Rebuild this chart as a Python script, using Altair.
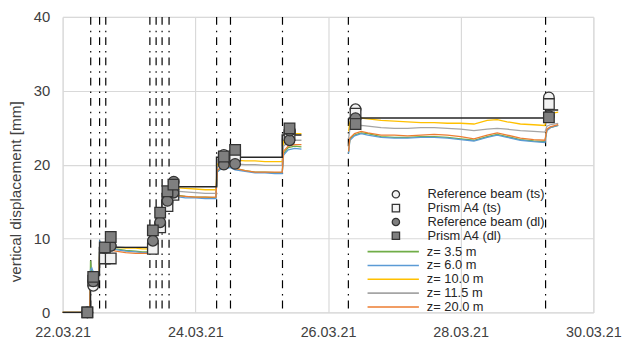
import altair as alt
import pandas as pd

BASE = pd.Timestamp("2021-03-22")

# ---------------- data (days after 22.03.21 00:00, displacement in mm) ----------------
seg1_days = [0.0, 0.41, 0.42, 0.44, 0.47, 0.50, 0.55,
             0.56, 0.60, 0.65, 0.70, 0.80, 0.95, 1.10, 1.20, 1.31,
             1.32, 1.40, 1.41, 1.50, 1.51, 1.60,
             1.62, 1.70, 1.85, 2.00, 2.15, 2.31,
             2.33, 2.40, 2.53, 2.60, 2.75, 2.90, 3.05, 3.20, 3.31,
             3.33, 3.40, 3.50, 3.60]
seg2_days = [4.31, 4.33, 4.40, 4.50, 4.60, 4.80, 5.00, 5.20, 5.40, 5.60, 5.80,
             6.00, 6.20, 6.40, 6.55, 6.70, 6.90, 7.10, 7.27, 7.30, 7.35, 7.47]

z35_seg1 = [0, 0, 7.0, 5.0, 5.5, 5.0, 5.0,
            9.5, 9.0, 9.2, 8.8, 8.6, 8.4, 8.3, 8.2, 8.2,
            9.5, 11.0, 12.0, 13.0, 14.5, 16.0,
            16.2, 15.9, 15.7, 15.6, 15.6, 15.5,
            19.0, 19.6, 19.7, 19.5, 19.2, 19.0, 19.0, 18.9, 18.9,
            21.5, 22.3, 22.5, 22.4]
z60_seg1 = [0, 0, 5.8, 6.0, 5.2, 5.5, 5.2,
            9.6, 9.0, 8.8, 8.6, 8.5, 8.3, 8.2, 8.1, 8.1,
            9.4, 10.8, 11.8, 12.8, 14.3, 15.8,
            16.0, 15.7, 15.5, 15.5, 15.4, 15.4,
            19.0, 19.5, 19.6, 19.3, 19.1, 18.9, 18.9, 18.8, 18.8,
            21.3, 22.0, 22.2, 22.1]
z100_seg1 = [0, 0, 5.0, 5.0, 4.9, 5.0, 5.0,
             9.3, 9.0, 8.9, 8.8, 8.8, 8.7, 8.7, 8.6, 8.6,
             9.8, 11.3, 12.3, 13.4, 14.8, 16.6,
             17.0, 16.9, 16.8, 16.7, 16.6, 16.6,
             20.0, 20.6, 20.7, 20.6, 20.5, 20.5, 20.4, 20.4, 20.4,
             23.2, 23.9, 24.2, 24.2]
z115_seg1 = [0, 0, 5.0, 5.1, 5.0, 5.0, 5.0,
             9.4, 9.1, 9.0, 8.9, 8.9, 8.8, 8.8, 8.8, 8.8,
             9.8, 11.2, 12.2, 13.3, 14.6, 16.3,
             16.6, 16.4, 16.3, 16.2, 16.1, 16.1,
             19.6, 20.2, 20.3, 20.1, 20.0, 20.0, 19.9, 19.9, 19.9,
             22.5, 23.1, 23.3, 23.3]
z200_seg1 = [0, 0, 5.2, 5.0, 5.0, 5.0, 5.0,
             9.2, 8.8, 8.6, 8.5, 8.3, 8.1, 8.0, 8.0, 8.0,
             9.3, 10.9, 11.9, 12.9, 14.4, 15.9,
             16.1, 15.8, 15.7, 15.6, 15.6, 15.6,
             19.2, 19.8, 19.8, 19.5, 19.2, 19.0, 19.0, 19.0, 19.0,
             21.8, 22.5, 22.7, 22.7]

z35_seg2 = [21.7, 23.5, 24.0, 24.3, 24.2, 23.8, 23.7, 23.7, 23.8, 23.8, 23.7,
            23.5, 23.3, 23.8, 24.1, 23.8, 23.4, 23.2, 23.1, 24.7, 25.0, 25.3]
z60_seg2 = [21.5, 23.3, 23.9, 24.2, 24.0, 23.7, 23.6, 23.6, 23.7, 23.7, 23.6,
            23.4, 23.2, 23.7, 24.0, 23.7, 23.3, 23.1, 23.0, 24.6, 25.0, 25.3]
z100_seg2 = [24.5, 25.8, 26.2, 26.3, 26.2, 26.0, 25.9, 25.8, 25.7, 25.7, 25.6,
             25.6, 25.5, 26.0, 26.1, 25.8, 25.5, 25.4, 25.3, 26.6, 26.9, 27.1]
z115_seg2 = [23.5, 24.8, 25.1, 25.3, 25.2, 25.0, 24.9, 24.9, 25.0, 25.0, 24.9,
             24.8, 24.6, 24.8, 24.9, 24.8, 24.6, 24.5, 24.4, 25.2, 25.4, 25.6]
z200_seg2 = [21.8, 23.6, 24.2, 24.5, 24.3, 24.0, 24.0, 23.9, 24.0, 24.1, 24.0,
             23.8, 23.5, 24.0, 24.3, 24.0, 23.6, 23.4, 23.3, 24.8, 25.1, 25.4]

sensor_names = ["z= 3.5 m", "z= 6.0 m", "z= 10.0 m", "z= 11.5 m", "z= 20.0 m"]
sensor_colors = ["#70ad47", "#5b9bd5", "#ffc000", "#a5a5a5", "#ed7d31"]

# black step curve
step1_days = [0.0, 0.42, 0.555, 1.315, 1.41, 1.50, 1.60, 2.32, 3.31, 3.60]
step1_vals = [0.0, 5.0, 8.8, 11.2, 13.4, 16.0, 17.0, 21.0, 24.0, 24.0]
step2_days = [4.31, 7.28, 7.47]
step2_vals = [26.3, 27.4, 27.4]

# load-step times (dash-dot verticals)
load_days = [0.423, 0.557, 0.650, 1.315, 1.409, 1.499, 1.604, 2.321, 2.530, 3.314, 4.307, 7.28]

# point measurements
ref_ts_days = [0.372, 0.461, 0.635, 0.725, 1.36, 1.47, 1.58, 1.67, 2.43, 2.60, 3.42, 4.415, 7.33]
ref_ts_vals = [0.0, 3.6, 8.5, 9.0, 9.5, 12.0, 14.9, 16.0, 21.3, 21.4, 24.3, 27.5, 29.1]
prism_ts_days = [0.372, 0.461, 0.635, 0.725, 1.36, 1.47, 1.58, 1.67, 2.43, 2.60, 3.42, 4.415, 7.33]
prism_ts_vals = [0.0, 4.3, 7.3, 7.3, 8.6, 11.5, 14.4, 15.9, 20.8, 21.2, 24.0, 26.9, 28.2]
ref_dl_days = [0.372, 0.461, 0.635, 0.725, 1.36, 1.47, 1.58, 1.67, 1.675, 2.43, 2.60, 3.42, 3.425, 4.415, 7.33]
ref_dl_vals = [0.0, 4.2, 8.7, 9.0, 9.7, 12.2, 15.1, 16.2, 17.7, 20.0, 20.1, 23.3, 24.6, 26.3, 26.6]
prism_dl_days = [0.372, 0.461, 0.635, 0.725, 1.36, 1.47, 1.58, 1.67, 2.43, 2.60, 3.42, 4.415, 7.33]
prism_dl_vals = [0.0, 4.8, 8.8, 10.2, 11.1, 13.5, 16.4, 17.3, 21.1, 22.0, 24.9, 25.5, 26.4]

marker_names = ["Reference beam (ts)", "Prism A4 (ts)", "Reference beam (dl)", "Prism A4 (dl)"]
marker_shapes = ["circle", "square", "circle", "square"]
marker_fills = ["#f2f2f2", "#f2f2f2", "#7f7f7f", "#7f7f7f"]
marker_strokes = ["#333333", "#333333", "#333333", "#333333"]

x_ticks = ["2021-03-22", "2021-03-24", "2021-03-26", "2021-03-28", "2021-03-30"]
y_ticks = [0, 10, 20, 30, 40]


def stamp(days):
    return [(BASE + pd.to_timedelta(d, unit="D")).strftime("%Y-%m-%dT%H:%M:%S") for d in days]


# ---------------- tables ----------------
rows = []
seg1 = [z35_seg1, z60_seg1, z100_seg1, z115_seg1, z200_seg1]
seg2 = [z35_seg2, z60_seg2, z100_seg2, z115_seg2, z200_seg2]
for name, a, b in zip(sensor_names, seg1, seg2):
    for t, v in zip(stamp(seg1_days), a):
        rows.append({"t": t, "v": v, "sensor": name, "seg": name + "1"})
    for t, v in zip(stamp(seg2_days), b):
        rows.append({"t": t, "v": v, "sensor": name, "seg": name + "2"})
lines_df = pd.DataFrame(rows)

step_df = pd.DataFrame(
    [{"t": t, "v": v, "seg": "a"} for t, v in zip(stamp(step1_days), step1_vals)]
    + [{"t": t, "v": v, "seg": "b"} for t, v in zip(stamp(step2_days), step2_vals)]
)

rules_df = pd.DataFrame({"t": stamp(load_days)})

mrows = []
for name, d, v in zip(marker_names,
                      [ref_ts_days, prism_ts_days, ref_dl_days, prism_dl_days],
                      [ref_ts_vals, prism_ts_vals, ref_dl_vals, prism_dl_vals]):
    for t, val in zip(stamp(d), v):
        mrows.append({"t": t, "v": val, "marker": name})
markers_df = pd.DataFrame(mrows)

# ---------------- encodings ----------------
FONT = "Liberation Sans"
x_enc = alt.X(
    "t:T",
    scale=alt.Scale(domain=[alt.DateTime(year=2021, month=3, date=22),
                            alt.DateTime(year=2021, month=3, date=30)]),
    axis=alt.Axis(
        values=[alt.DateTime(year=int(s[:4]), month=int(s[5:7]), date=int(s[8:10])) for s in x_ticks],
        format="%d.%m.%y", title=None, grid=True, gridColor="#d9d9d9", gridWidth=1.2,
        domain=False, ticks=False, labelFontSize=14.5, labelPadding=13, labelColor="#404040",
        labelFlush=False, labelOverlap=False, labelFont=FONT,
    ),
)
y_enc = alt.Y(
    "v:Q",
    scale=alt.Scale(domain=[0, 40]),
    axis=alt.Axis(
        values=y_ticks, title="vertical displacement [mm]", grid=True, gridColor="#d9d9d9",
        gridWidth=1.2, domain=False, ticks=False, labelFontSize=15, labelPadding=13,
        labelColor="#404040", labelFont=FONT, titleFont=FONT, titleFontSize=15.5,
        titleFontWeight="normal", titleColor="#404040", titleX=-47.5, titleY=176.5,
        titleAngle=-90, titleAlign="center", titleBaseline="middle",
    ),
)

rules = alt.Chart(rules_df).mark_rule(
    color="#000000", strokeWidth=1.2, strokeDash=[8, 6, 1.5, 5]
).encode(x=x_enc)

lines = alt.Chart(lines_df).mark_line(strokeWidth=1.3).encode(
    x=x_enc, y=y_enc,
    color=alt.Color(
        "sensor:N",
        scale=alt.Scale(domain=sensor_names, range=sensor_colors),
        legend=alt.Legend(
            title=None, orient="none", legendX=328, legendY=231, padding=0,
            symbolType="M-5,0H5", symbolSize=108, symbolStrokeWidth=1.6,
            labelOffset=27.5, rowPadding=-0.8, labelFontSize=13, labelFont=FONT,
            labelColor="#262626",
        ),
    ),
    detail="seg:N",
)

step = alt.Chart(step_df).mark_line(
    color="#262626", strokeWidth=1.5, interpolate="step-after"
).encode(x=x_enc, y=y_enc, detail="seg:N")

marker_legend = alt.Legend(
    title=None, orient="none", legendX=330.7, legendY=173, padding=0,
    symbolSize=55, symbolStrokeWidth=1.3,
    labelOffset=25.5, rowPadding=-3, labelFontSize=13, labelFont=FONT,
    labelColor="#262626",
)
markers = alt.Chart(markers_df).mark_point(
    filled=False, size=115, strokeWidth=1.3, opacity=1, strokeOpacity=1, fillOpacity=1
).encode(
    x=x_enc, y=y_enc,
    shape=alt.Shape("marker:N", scale=alt.Scale(domain=marker_names, range=marker_shapes),
                    legend=marker_legend),
    fill=alt.Fill("marker:N", scale=alt.Scale(domain=marker_names, range=marker_fills),
                  legend=marker_legend),
    stroke=alt.Stroke("marker:N", scale=alt.Scale(domain=marker_names, range=marker_strokes),
                      legend=marker_legend),
)

chart = alt.layer(rules, lines, step, markers).properties(
    width=537, height=299,
    padding={"left": 55.3, "top": 7, "right": 30, "bottom": 30},
    autosize="none",
).configure_view(stroke=None).configure(font=FONT)

chart.save("out.html", embed_options={"renderer": "svg", "actions": False})
